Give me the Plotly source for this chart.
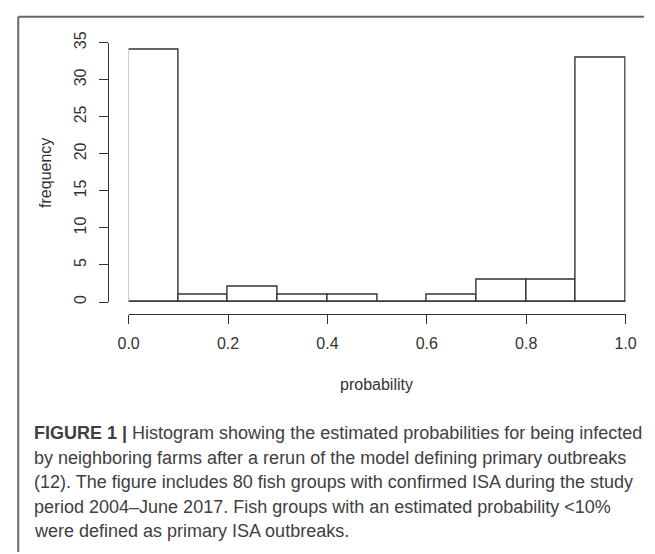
import plotly.graph_objects as go

W, H = 655, 554

# Data
bin_edges = [0.0, 0.1, 0.2, 0.3, 0.4, 0.5, 0.6, 0.7, 0.8, 0.9, 1.0]
counts = [34, 1, 2, 1, 1, 0, 1, 3, 3, 33]
x_ticks = [0.0, 0.2, 0.4, 0.6, 0.8, 1.0]
x_ticklabels = ["0.0", "0.2", "0.4", "0.6", "0.8", "1.0"]
y_ticks = [0, 5, 10, 15, 20, 25, 30, 35]
caption_lines = [
    "<b>FIGURE 1 |</b> Histogram showing the estimated probabilities for being infected",
    "by neighboring farms after a rerun of the model defining primary outbreaks",
    "(12). The figure includes 80 fish groups with confirmed ISA during the study",
    "period 2004\u2013June 2017. Fish groups with an estimated probability <10%",
    "were defined as primary ISA outbreaks.",
]

def px(x):
    return x / W

def py(y):
    return 1 - y / H

centers = [(a + b) / 2 for a, b in zip(bin_edges[:-1], bin_edges[1:])]
widths = [b - a for a, b in zip(bin_edges[:-1], bin_edges[1:])]

FONT = "Liberation Sans, Arial, sans-serif"
AX = "#333333"

fig = go.Figure()
fig.add_trace(go.Bar(
    x=centers, y=counts, width=widths,
    marker=dict(color="white", line=dict(color=AX, width=1.4)),
    hoverinfo="x+y",
))

fig.update_layout(
    width=W, height=H,
    margin=dict(l=0, r=0, t=0, b=0),
    paper_bgcolor="white", plot_bgcolor="white",
    showlegend=False,
    bargap=0,
    font=dict(family=FONT, size=16, color=AX),
    xaxis=dict(
        domain=[px(121.7), px(636)],
        range=[bin_edges[0], bin_edges[-1]],
        anchor="free", position=py(310),
        showgrid=False, zeroline=False,
        showline=True, linecolor=AX, linewidth=1.2,
        ticks="outside", ticklen=9, tickwidth=1.2, tickcolor=AX,
        tickvals=x_ticks, ticktext=x_ticklabels,
        tickfont=dict(size=16, color=AX),
        ticklabelstandoff=6,
    ),
    yaxis=dict(
        domain=[py(298), py(32.5)],
        range=[0, 35],
        anchor="free", position=px(100),
        showgrid=False, zeroline=False,
        showline=True, linecolor=AX, linewidth=1.2,
        ticks="outside", ticklen=9, tickwidth=1.2, tickcolor=AX,
        tickvals=y_ticks,
        tickangle=-90,
        tickfont=dict(size=16, color=AX),
        ticklabelstandoff=6,
    ),
)

# baseline (bottom of bars, including the empty bin)
fig.add_shape(type="line", xref="x", yref="y",
              x0=bin_edges[0], x1=bin_edges[-1], y0=0, y1=0,
              line=dict(color=AX, width=1.4))

# Axis titles
fig.add_annotation(text="frequency", xref="paper", yref="paper",
                   x=px(35), y=py(166), textangle=-90, showarrow=False,
                   xanchor="center", yanchor="middle",
                   font=dict(size=16, color=AX))
fig.add_annotation(text="probability", xref="paper", yref="paper",
                   x=px(378), y=py(382), showarrow=False,
                   xanchor="center", yanchor="middle",
                   font=dict(size=16, color=AX))

# Caption
for i, line in enumerate(caption_lines):
    fig.add_annotation(text=line, xref="paper", yref="paper",
                       x=px(22), y=py(432.5 + 25 * i), showarrow=False,
                       xanchor="left", yanchor="middle", align="left",
                       font=dict(size=18, color="#404040", family=FONT))

# Frame: top and left border lines
fig.add_shape(type="line", xref="paper", yref="paper",
              x0=px(7.5), x1=1, y0=py(6), y1=py(6),
              line=dict(color="#666666", width=2))
fig.add_shape(type="line", xref="paper", yref="paper",
              x0=px(7.5), x1=px(7.5), y0=py(6), y1=0,
              line=dict(color="#666666", width=2))

fig.write_html("out.html",
               config={"displayModeBar": False},
               post_script="document.body.style.margin='0';document.body.style.overflow='hidden';")
